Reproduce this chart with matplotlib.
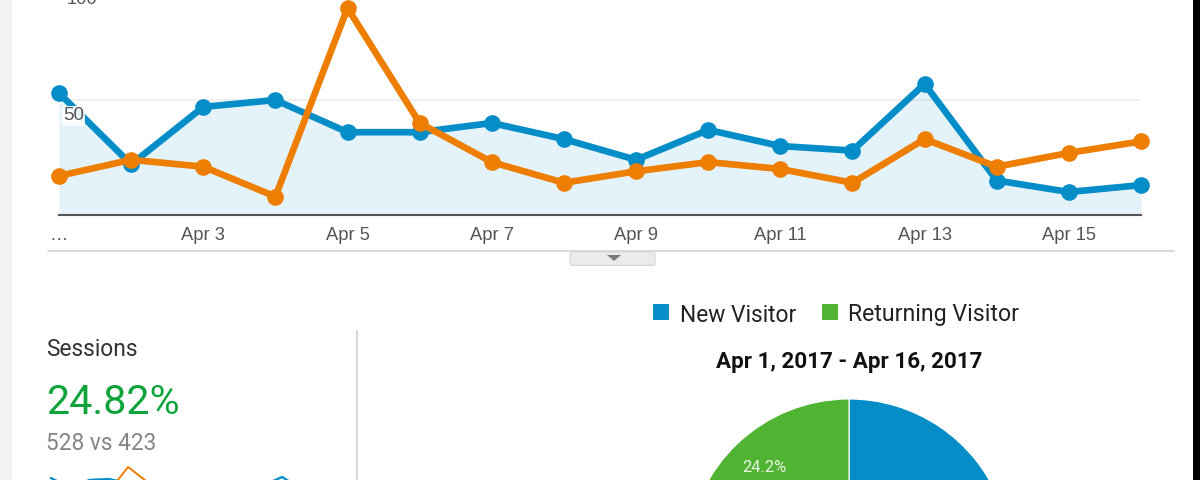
import matplotlib
matplotlib.use("Agg")
import matplotlib.pyplot as plt
from matplotlib.patches import Rectangle, FancyBboxPatch, Polygon

W, H = 1200, 480
plt.rcParams['font.family'] = ['Roboto', 'DejaVu Sans']

days = list(range(1, 17))
new_sessions = [53, 22, 47, 50, 36, 36, 40, 33, 24, 37, 30, 28, 57, 15, 10, 13]
prev_sessions = [17, 24, 21, 8, 90, 40, 23, 14, 19, 23, 20, 14, 33, 21, 27, 32]
tick_days = [3, 5, 7, 9, 11, 13, 15]
tick_labels = ['Apr 3', 'Apr 5', 'Apr 7', 'Apr 9', 'Apr 11', 'Apr 13', 'Apr 15']
pie_labels = ['New Visitor', 'Returning Visitor']
pie_values = [75.8, 24.2]

BLUE = '#058DC7'
ORANGE = '#ED7E00'
GREEN = '#50B432'
AXIS = ['Liberation Sans', 'DejaVu Sans']

def axes_px(x0, y0, x1, y1, **kw):
    return fig.add_axes([x0 / W, 1 - y1 / H, (x1 - x0) / W, (y1 - y0) / H], **kw)

fig = plt.figure(figsize=(W / 100, H / 100), dpi=100, facecolor='white')

bg = axes_px(0, 0, W, H)
bg.set_xlim(0, W); bg.set_ylim(H, 0); bg.axis('off')
bg.add_patch(Rectangle((0, 0), 12, H, fc='#F3F3F3', ec='none'))
bg.add_patch(Rectangle((1193, 0), 7, H, fc='black', ec='none'))
bg.plot([48, 1174], [251, 251], color='#D4D4D4', lw=1.2)
bg.plot([356.5, 356.5], [331, 480], color='#CFCFCF', lw=1.2)
bg.add_patch(FancyBboxPatch((570, 252), 85, 13.5, boxstyle='round,pad=0,rounding_size=2',
                            fc='#EBEBEB', ec='#D6D6D6', lw=0.8))
bg.add_patch(Polygon([[607, 255], [621, 255], [614, 261]], fc='#7A7A7A', ec='none'))

ax = axes_px(59, 0, 1141, 215)
ax.set_xlim(1, 16)
ax.set_ylim(0, 215 / 2.3)
ax.patch.set_alpha(0)
for s in ['top', 'left', 'right']:
    ax.spines[s].set_visible(False)
ax.spines['bottom'].set_color('#555555')
ax.spines['bottom'].set_linewidth(1.5)
ax.set_yticks([])
ax.axhline(50, color='#F0F0F0', lw=1.5, zorder=1)
ax.fill_between(days, new_sessions, color=BLUE, alpha=0.105, lw=0, zorder=2)
ax.plot(days, new_sessions, color=BLUE, lw=4.8, marker='o', ms=12, mew=0, clip_on=False, zorder=3)
ax.plot(days, prev_sessions, color=ORANGE, lw=4.8, marker='o', ms=12, mew=0, clip_on=False, zorder=4)
ax.set_xticks(tick_days)
ax.set_xticklabels(tick_labels, fontsize=13.2, color='#555555', family=AXIS)
ax.tick_params(axis='x', length=0, pad=8.4)
bg.text(59, 236, '…', fontsize=13.2, color='#555555', ha='center', va='center', family=AXIS)
ax.annotate('50', xy=(1, 50), xytext=(3, -11.5), textcoords='offset points', fontsize=13.6,
            color='#555555', ha='left', va='center', zorder=5, family=AXIS,
            bbox=dict(fc='white', ec='none', pad=0.8, alpha=0.9))
ax.annotate('100', xy=(1, 100), xytext=(5.5, -10.5), textcoords='offset points', fontsize=13.2,
            color='#555555', ha='left', va='center', zorder=5, family=AXIS, annotation_clip=False)

bg.text(46, 350, 'Sessions', fontsize=16.4, color='#333333', va='center', ha='left')
bg.text(46, 402, '24.82%', fontsize=29.7, color='#0DA33A', va='center', ha='left')
bg.text(46, 443, '528 vs 423', fontsize=16.3, color='#858585', va='center', ha='left')

sp = axes_px(51, 467, 340, 494)
sp.axis('off')
sp.set_xlim(1, 16); sp.set_ylim(0, 90)
sp.fill_between(days, new_sessions, color=BLUE, alpha=0.1, lw=0)
sp.plot(days, new_sessions, color=BLUE, lw=1.6, clip_on=False)
sp.plot(days, prev_sessions, color=ORANGE, lw=1.4, clip_on=False)

bg.add_patch(Rectangle((653, 304), 16, 16, fc=BLUE, ec='none'))
bg.add_patch(Rectangle((822, 304), 16, 16, fc=GREEN, ec='none'))
bg.text(680, 315, pie_labels[0], fontsize=16.4, color='#222222', va='center', ha='left')
bg.text(848, 315, pie_labels[1], fontsize=16.7, color='#222222', va='center', ha='left')
bg.text(849, 362, 'Apr 1, 2017 - Apr 16, 2017', fontsize=16.1, fontweight='bold',
        color='#111111', va='center', ha='center')

r = 162
pa = axes_px(849 - r, 399, 849 + r, 399 + 2 * r)
pa.pie(pie_values, colors=[BLUE, GREEN], startangle=90, counterclock=False, radius=1,
       wedgeprops=dict(ec='white', lw=0.8))
pa.set_xlim(-1, 1); pa.set_ylim(-1, 1)
pa.text((764 - 849) / r, (399 + r - 467) / r, '24.2%', fontsize=11.9, color='#EAF5E4', ha='center', va='center')

fig.savefig('out.png', dpi=100)
